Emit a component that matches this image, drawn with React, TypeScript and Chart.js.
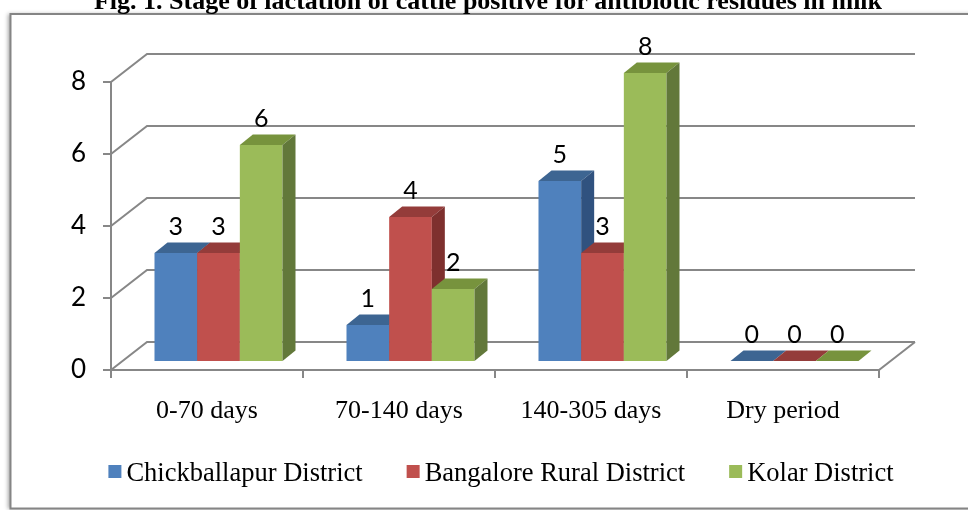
import React, { useEffect, useRef } from 'react';
import { Chart, registerables } from 'chart.js';

Chart.register(...registerables);

const titleText = 'Fig. 1. Stage of lactation of cattle positive for antibiotic residues in milk';
const categories = ['0-70 days', '70-140 days', '140-305 days', 'Dry period'];
const seriesNames = ['Chickballapur District', 'Bangalore Rural District', 'Kolar District'];
const chickballapur = [3, 1, 5, 0];
const bangaloreRural = [3, 4, 3, 0];
const kolar = [6, 2, 8, 0];
const yTicks = [0, 2, 4, 6, 8];

const frontColors = ['#4F81BD', '#C0504D', '#9BBB59'];
const topColors = ['#3D6592', '#943C3A', '#77933D'];
const sideColors = ['#30527F', '#7E302E', '#62783A'];

// 3D projection offsets (relative to bar plane)
const FX = -11.5, FY = 9; // front plane
const BX = 24.5, BY = -19; // back wall plane
const DX = 13, DY = 10.5; // bar depth
const GRID = '#878787';

const threeD = {
  id: 'threeD',
  beforeDraw(chart: any) {
    const ctx = chart.ctx;
    ctx.save();
    ctx.fillStyle = '#ffffff';
    ctx.fillRect(0, 0, chart.width, chart.height);
    ctx.shadowColor = 'rgba(0,0,0,0.35)';
    ctx.shadowBlur = 4;
    ctx.shadowOffsetX = -3;
    ctx.fillRect(10.5, 14, chart.width + 20, 494.5);
    ctx.restore();
    ctx.save();
    ctx.strokeStyle = '#858585';
    ctx.lineWidth = 2;
    ctx.strokeRect(10.5, 14, chart.width + 20, 494.5);
    ctx.restore();
    // title
    ctx.save();
    ctx.fillStyle = '#000';
    ctx.font = 'bold 26px "Liberation Serif"';
    ctx.textAlign = 'center';
    ctx.textBaseline = 'alphabetic';
    ctx.fillText(titleText, 488, 9);
    ctx.restore();
  },
  beforeDatasetsDraw(chart: any) {
    const ctx = chart.ctx;
    const ys = chart.scales.y;
    const xs = chart.scales.x;
    const ca = chart.chartArea;
    ctx.save();
    ctx.strokeStyle = GRID;
    ctx.lineWidth = 2;
    ctx.lineCap = 'butt';
    yTicks.forEach((v) => {
      const py = ys.getPixelForValue(v);
      ctx.beginPath();
      ctx.moveTo(ca.left + FX, py + FY);
      ctx.lineTo(ca.left + BX, py + BY);
      ctx.lineTo(ca.right + BX, py + BY);
      ctx.stroke();
      ctx.beginPath();
      ctx.moveTo(ca.left + FX - 8, py + FY);
      ctx.lineTo(ca.left + FX, py + FY);
      ctx.stroke();
    });
    const y0 = ys.getPixelForValue(yTicks[0]);
    const yTop = ys.getPixelForValue(yTicks[yTicks.length - 1]);
    ctx.beginPath();
    ctx.moveTo(ca.left + FX, y0 + FY + 1);
    ctx.lineTo(ca.left + FX, yTop + FY);
    ctx.stroke();
    ctx.beginPath();
    ctx.moveTo(ca.left + FX, y0 + FY);
    ctx.lineTo(ca.right + FX, y0 + FY);
    ctx.lineTo(ca.right + BX, y0 + BY);
    ctx.stroke();
    const catW = xs.getPixelForValue(1) - xs.getPixelForValue(0);
    for (let i = 0; i <= categories.length; i++) {
      const bx = xs.getPixelForValue(0) - catW / 2 + i * catW + FX;
      ctx.beginPath();
      ctx.moveTo(bx, y0 + FY);
      ctx.lineTo(bx, y0 + FY + 8);
      ctx.stroke();
    }
    ctx.restore();
  },
  // Chart.js' own flat bar drawing is replaced by the 3D drawing below
  beforeDatasetDraw() {
    return false;
  },
  afterDatasetsDraw(chart: any) {
    const ctx = chart.ctx;
    ctx.save();
    chart.data.datasets.forEach((ds: any, idx: number) => {
      const meta = chart.getDatasetMeta(idx);
      meta.data.forEach((bar: any) => {
        const p = bar.getProps(['x', 'y', 'base', 'width'], true);
        const l = p.x - p.width / 2;
        const r = p.x + p.width / 2;
        ctx.fillStyle = ds.backgroundColor;
        ctx.fillRect(l, p.y, p.width, p.base - p.y);
        ctx.fillStyle = topColors[idx];
        ctx.beginPath();
        ctx.moveTo(l, p.y);
        ctx.lineTo(l + DX, p.y - DY);
        ctx.lineTo(r + DX, p.y - DY);
        ctx.lineTo(r, p.y);
        ctx.closePath();
        ctx.fill();
        ctx.fillStyle = sideColors[idx];
        ctx.beginPath();
        ctx.moveTo(r, p.y);
        ctx.lineTo(r + DX, p.y - DY);
        ctx.lineTo(r + DX, p.base - DY);
        ctx.lineTo(r, p.base);
        ctx.closePath();
        ctx.fill();
      });
    });
    ctx.fillStyle = '#000';
    ctx.font = '25px Lato';
    ctx.textAlign = 'center';
    ctx.textBaseline = 'middle';
    chart.data.datasets.forEach((ds: any, i: number) => {
      const meta = chart.getDatasetMeta(i);
      meta.data.forEach((bar: any, j: number) => {
        const p = bar.getProps(['x', 'y'], true);
        ctx.fillText(String(ds.data[j]), p.x, p.y - 26);
      });
    });
    ctx.restore();
  },
  afterDraw(chart: any) {
    const ctx = chart.ctx;
    ctx.save();
    ctx.font = '26.5px "Liberation Serif"';
    ctx.textBaseline = 'alphabetic';
    ctx.textAlign = 'left';
    const box = 13, gapText = 5, itemGap = 44;
    const widths = seriesNames.map((n) => ctx.measureText(n).width);
    const total = widths.reduce((a, w) => a + box + gapText + w, 0) + itemGap * (seriesNames.length - 1);
    let x = 501 - total / 2;
    seriesNames.forEach((n, i) => {
      ctx.fillStyle = frontColors[i];
      ctx.fillRect(x, 465, box, box);
      ctx.fillStyle = '#000';
      ctx.fillText(n, x + box + gapText, 481);
      x += box + gapText + widths[i] + itemGap;
    });
    ctx.restore();
  },
};

export default function App() {
  const ref = useRef<HTMLCanvasElement | null>(null);
  useEffect(() => {
    document.body.style.margin = '0';
    const canvas = ref.current;
    if (!canvas) return;
    const series = [chickballapur, bangaloreRural, kolar];
    const chart = new Chart(canvas, {
      type: 'bar',
      data: {
        labels: categories,
        datasets: series.map((d, i) => ({
          label: seriesNames[i],
          data: d,
          backgroundColor: frontColors[i],
          borderWidth: 0,
          categoryPercentage: 0.6667,
          barPercentage: 1,
        })),
      },
      options: {
        responsive: false,
        animation: false,
        layout: { padding: { left: 0, right: 77.5, top: 73, bottom: 0 } },
        plugins: {
          legend: { display: false },
          title: { display: false },
          tooltip: { enabled: false },
        },
        scales: {
          x: {
            type: 'category',
            grid: { display: false, drawTicks: false },
            border: { display: false },
            ticks: {
              color: '#000',
              font: { family: '"Liberation Serif"', size: 26 },
              padding: 35,
              labelOffset: FX,
              maxRotation: 0,
              autoSkip: false,
            },
            afterFit: (s: any) => { s.height = 149; },
          },
          y: {
            min: 0,
            max: 8,
            grid: { display: false, drawTicks: false },
            border: { display: false },
            ticks: {
              stepSize: 2,
              color: '#000',
              font: { family: 'Lato', size: 26 },
              padding: 36.5,
              labelOffset: FY,
            },
            afterBuildTicks: (s: any) => { s.ticks = yTicks.map((v) => ({ value: v })); },
            afterFit: (s: any) => { s.width = 122.5; },
          },
        },
      },
      plugins: [threeD],
    } as any);
    return () => chart.destroy();
  }, []);
  return (
    <div style={{ width: 968, height: 510 }}>
      <canvas ref={ref} width={968} height={510} style={{ display: 'block' }} />
    </div>
  );
}
